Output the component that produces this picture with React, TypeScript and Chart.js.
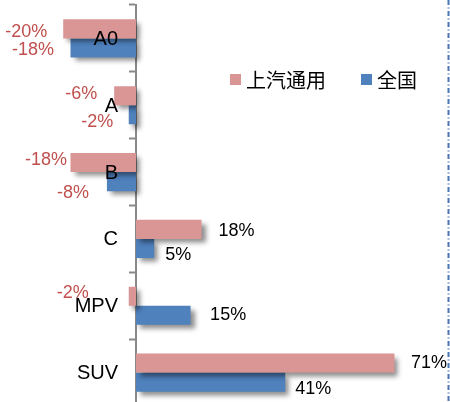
import React, { useEffect, useRef } from "react";
import { Chart, registerables } from "chart.js";

Chart.register(...registerables);

// ---- data ----
const categories = ["A0", "A", "B", "C", "MPV", "SUV"];
const seriesNames = ["上汽通用", "全国"];
const sgmGrowth = [-20, -6, -18, 18, -2, 71];
const nationalGrowth = [-18, -2, -8, 5, 15, 41];

// ---- styles ----
const COLORS = ["#D99694", "#4F81BD"];
const NEG_LABEL = "#C0504D";
const POS_LABEL = "#000000";
const LATIN = "'Liberation Sans', Arial, sans-serif";
const CJK = "'Noto Sans CJK SC', 'Liberation Sans', sans-serif";

// label placement tweaks [dx from bar end, dy from bar centre] per series / category
const LABEL_OFFSETS = [
  [[-16, 3], [-17, -2], [-3.5, -3], [17, 2], [-40, -3], [16.5, 0]],
  [[-16.5, 2], [-15.5, 7], [-18, 11], [11, 6.5], [19.5, 0], [10, 6.5]],
];

const decorPlugin = {
  id: "decor",
  beforeDatasetsDraw(chart: any) {
    const ctx = chart.ctx;
    ctx.save();
    ctx.shadowColor = "rgba(0,0,0,0.45)";
    ctx.shadowBlur = 5;
    ctx.shadowOffsetX = 4;
    ctx.shadowOffsetY = 4;
  },
  afterDatasetsDraw(chart: any) {
    const ctx = chart.ctx;
    ctx.restore();
    ctx.save();
    ctx.font = `18px ${LATIN}`;
    ctx.textBaseline = "middle";
    chart.data.datasets.forEach((ds: any, i: number) => {
      const meta = chart.getDatasetMeta(i);
      meta.data.forEach((el: any, j: number) => {
        const v = ds.data[j];
        const [dx, dy] = LABEL_OFFSETS[i][j];
        ctx.fillStyle = v < 0 ? NEG_LABEL : POS_LABEL;
        ctx.textAlign = v < 0 ? "right" : "left";
        ctx.fillText(`${v}%`, el.x + dx, el.y + dy);
      });
    });
    ctx.restore();
  },
  afterDraw(chart: any) {
    const ctx = chart.ctx;
    const xs = chart.scales.x;
    const ys = chart.scales.y;
    ctx.save();
    // category labels (right-aligned, left of the zero axis)
    ctx.font = `20px ${LATIN}`;
    ctx.fillStyle = "#000";
    ctx.textAlign = "right";
    ctx.textBaseline = "middle";
    const axisX = xs.getPixelForValue(0);
    chart.data.labels.forEach((lab: string, j: number) => {
      ctx.fillText(lab, axisX - 18, ys.getPixelForValue(j) + 1);
    });
    // legend
    const items = [
      { box: 230, text: 246 },
      { box: 361, text: 377 },
    ];
    ctx.font = `20px ${CJK}`;
    ctx.textAlign = "left";
    chart.data.datasets.forEach((ds: any, i: number) => {
      const it = items[i];
      ctx.fillStyle = ds.backgroundColor;
      ctx.fillRect(it.box, 74, 11, 11);
      ctx.fillStyle = "#000";
      ctx.fillText(ds.label, it.text, 80);
    });
    // dash-dot frame edge on the right
    ctx.strokeStyle = "#4A74B2";
    ctx.lineWidth = 2;
    ctx.setLineDash([5, 2.5, 1, 2.5]);
    ctx.beginPath();
    ctx.moveTo(448.5, 0);
    ctx.lineTo(448.5, 402);
    ctx.stroke();
    ctx.restore();
  },
};

export default function App() {
  const ref = useRef<HTMLCanvasElement>(null);
  useEffect(() => {
    if (!ref.current) return;
    const chart = new Chart(ref.current, {
      type: "bar",
      data: {
        labels: categories,
        datasets: [
          { label: seriesNames[0], data: sgmGrowth, backgroundColor: COLORS[0], borderWidth: 0 },
          { label: seriesNames[1], data: nationalGrowth, backgroundColor: COLORS[1], borderWidth: 0 },
        ],
      },
      options: {
        indexAxis: "y",
        animation: false,
        responsive: false,
        devicePixelRatio: 1,
        layout: { padding: { left: 5, right: 22.8, top: 5, bottom: 14 } },
        datasets: { bar: { categoryPercentage: 0.57, barPercentage: 1.0 } },
        plugins: { legend: { display: false }, tooltip: { enabled: false } },
        scales: {
          x: { display: false, min: -36, max: 80 },
          y: {
            position: { x: 0 } as any,
            z: 1,
            grid: {
              display: true,
              drawOnChartArea: false,
              drawTicks: true,
              tickLength: 6,
              tickWidth: 2,
              color: "#898989",
              offset: true,
            },
            border: { display: true, color: "#898989", width: 2 },
            ticks: { display: false },
          },
        },
      },
      plugins: [decorPlugin],
    });
    return () => chart.destroy();
  }, []);
  return (
    <div style={{ position: "absolute", left: 0, top: 0, width: 450, height: 402, overflow: "hidden", background: "#fff" }}>
      <canvas ref={ref} width={450} height={420} style={{ display: "block" }} />
    </div>
  );
}
